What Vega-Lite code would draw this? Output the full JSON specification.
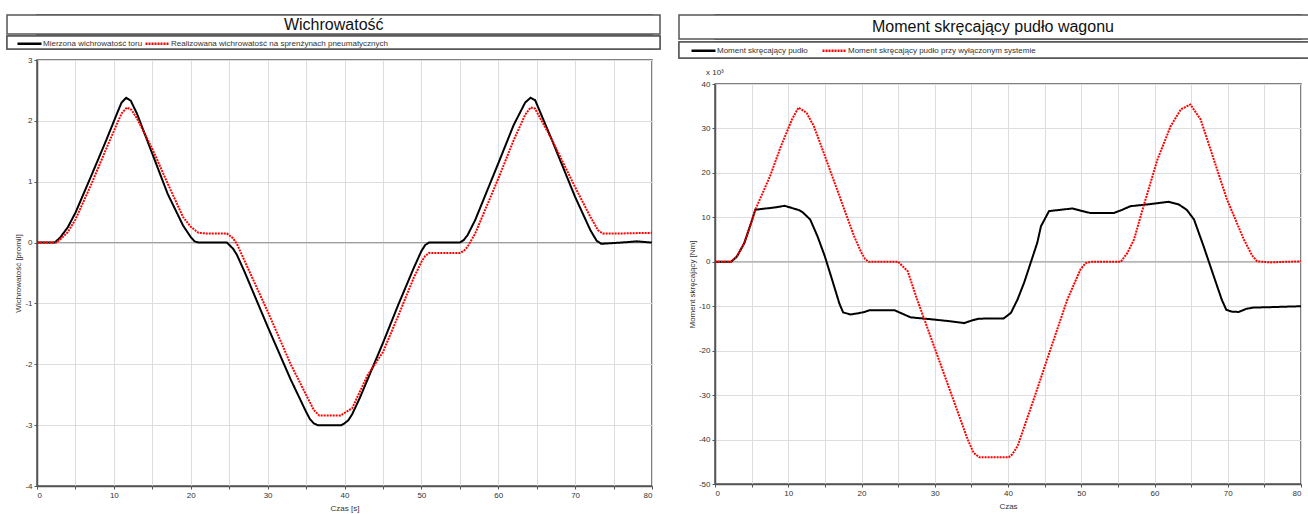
{
  "$schema": "https://vega.github.io/schema/vega-lite/v6.json",
  "padding": {"left": 5, "top": 13, "right": 0, "bottom": 0},
  "background": "white",
  "config": {
    "font": "Liberation Sans",
    "view": {"stroke": "#555", "strokeWidth": 1.5},
    "axis": {
      "labelFont": "Liberation Sans", "labelFontSize": 8, "labelColor": "#333",
      "titleFont": "Liberation Sans", "titleFontSize": 8, "titleFontWeight": "normal", "titleColor": "#333",
      "domainColor": "#555", "domainWidth": 1.5, "tickColor": "#555", "tickSize": 3, "labelPadding": 2,
      "gridColor": "#dddddd", "gridWidth": 1
    },
    "legend": {
      "labelFont": "Liberation Sans", "labelFontSize": 8, "labelColor": "#333", "labelLimit": 500,
      "symbolType": "M-3,0H3", "symbolSize": 64, "symbolStrokeWidth": 2.5,
      "labelOffset": 8, "padding": 0, "rowPadding": 0, "direction": "horizontal"
    }
  },
  "datasets": {
    "wich": [
      {"t":0,"v":0,"s":"Mierzona wichrowatość toru"},{"t":2.3,"v":0,"s":"Mierzona wichrowatość toru"},{"t":3,"v":0.08,"s":"Mierzona wichrowatość toru"},{"t":4,"v":0.25,"s":"Mierzona wichrowatość toru"},{"t":5,"v":0.49,"s":"Mierzona wichrowatość toru"},{"t":7,"v":1.08,"s":"Mierzona wichrowatość toru"},{"t":9,"v":1.68,"s":"Mierzona wichrowatość toru"},{"t":10.5,"v":2.15,"s":"Mierzona wichrowatość toru"},{"t":11,"v":2.3,"s":"Mierzona wichrowatość toru"},{"t":11.6,"v":2.38,"s":"Mierzona wichrowatość toru"},{"t":12.2,"v":2.33,"s":"Mierzona wichrowatość toru"},{"t":13,"v":2.12,"s":"Mierzona wichrowatość toru"},{"t":15,"v":1.46,"s":"Mierzona wichrowatość toru"},{"t":17,"v":0.8,"s":"Mierzona wichrowatość toru"},{"t":19,"v":0.28,"s":"Mierzona wichrowatość toru"},{"t":20,"v":0.09,"s":"Mierzona wichrowatość toru"},{"t":20.5,"v":0.02,"s":"Mierzona wichrowatość toru"},{"t":21,"v":0,"s":"Mierzona wichrowatość toru"},{"t":24.7,"v":0,"s":"Mierzona wichrowatość toru"},{"t":25.5,"v":-0.1,"s":"Mierzona wichrowatość toru"},{"t":26,"v":-0.2,"s":"Mierzona wichrowatość toru"},{"t":27,"v":-0.48,"s":"Mierzona wichrowatość toru"},{"t":30,"v":-1.38,"s":"Mierzona wichrowatość toru"},{"t":33,"v":-2.25,"s":"Mierzona wichrowatość toru"},{"t":35,"v":-2.78,"s":"Mierzona wichrowatość toru"},{"t":35.5,"v":-2.9,"s":"Mierzona wichrowatość toru"},{"t":36,"v":-2.97,"s":"Mierzona wichrowatość toru"},{"t":36.5,"v":-3,"s":"Mierzona wichrowatość toru"},{"t":39.6,"v":-3,"s":"Mierzona wichrowatość toru"},{"t":40,"v":-2.97,"s":"Mierzona wichrowatość toru"},{"t":40.5,"v":-2.92,"s":"Mierzona wichrowatość toru"},{"t":41,"v":-2.82,"s":"Mierzona wichrowatość toru"},{"t":42,"v":-2.55,"s":"Mierzona wichrowatość toru"},{"t":43,"v":-2.25,"s":"Mierzona wichrowatość toru"},{"t":45,"v":-1.65,"s":"Mierzona wichrowatość toru"},{"t":47,"v":-1.02,"s":"Mierzona wichrowatość toru"},{"t":49,"v":-0.42,"s":"Mierzona wichrowatość toru"},{"t":50,"v":-0.14,"s":"Mierzona wichrowatość toru"},{"t":50.5,"v":-0.04,"s":"Mierzona wichrowatość toru"},{"t":51,"v":0,"s":"Mierzona wichrowatość toru"},{"t":55,"v":0,"s":"Mierzona wichrowatość toru"},{"t":55.5,"v":0.04,"s":"Mierzona wichrowatość toru"},{"t":56,"v":0.12,"s":"Mierzona wichrowatość toru"},{"t":57,"v":0.37,"s":"Mierzona wichrowatość toru"},{"t":60,"v":1.3,"s":"Mierzona wichrowatość toru"},{"t":62,"v":1.93,"s":"Mierzona wichrowatość toru"},{"t":63.5,"v":2.3,"s":"Mierzona wichrowatość toru"},{"t":64.2,"v":2.38,"s":"Mierzona wichrowatość toru"},{"t":64.8,"v":2.34,"s":"Mierzona wichrowatość toru"},{"t":65,"v":2.28,"s":"Mierzona wichrowatość toru"},{"t":67,"v":1.68,"s":"Mierzona wichrowatość toru"},{"t":70,"v":0.75,"s":"Mierzona wichrowatość toru"},{"t":72,"v":0.2,"s":"Mierzona wichrowatość toru"},{"t":72.8,"v":0.03,"s":"Mierzona wichrowatość toru"},{"t":73.4,"v":-0.02,"s":"Mierzona wichrowatość toru"},{"t":76,"v":0,"s":"Mierzona wichrowatość toru"},{"t":78,"v":0.02,"s":"Mierzona wichrowatość toru"},{"t":80,"v":0,"s":"Mierzona wichrowatość toru"},
      {"t":0,"v":0,"s":"Realizowana wichrowatość na sprenżynach pneumatycznych"},{"t":2.5,"v":0,"s":"Realizowana wichrowatość na sprenżynach pneumatycznych"},{"t":3,"v":0.05,"s":"Realizowana wichrowatość na sprenżynach pneumatycznych"},{"t":4,"v":0.17,"s":"Realizowana wichrowatość na sprenżynach pneumatycznych"},{"t":5,"v":0.38,"s":"Realizowana wichrowatość na sprenżynach pneumatycznych"},{"t":7,"v":0.94,"s":"Realizowana wichrowatość na sprenżynach pneumatycznych"},{"t":9,"v":1.54,"s":"Realizowana wichrowatość na sprenżynach pneumatycznych"},{"t":10.5,"v":1.98,"s":"Realizowana wichrowatość na sprenżynach pneumatycznych"},{"t":11,"v":2.12,"s":"Realizowana wichrowatość na sprenżynach pneumatycznych"},{"t":11.7,"v":2.22,"s":"Realizowana wichrowatość na sprenżynach pneumatycznych"},{"t":12.3,"v":2.18,"s":"Realizowana wichrowatość na sprenżynach pneumatycznych"},{"t":13,"v":2.04,"s":"Realizowana wichrowatość na sprenżynach pneumatycznych"},{"t":15,"v":1.54,"s":"Realizowana wichrowatość na sprenżynach pneumatycznych"},{"t":17,"v":0.97,"s":"Realizowana wichrowatość na sprenżynach pneumatycznych"},{"t":19,"v":0.42,"s":"Realizowana wichrowatość na sprenżynach pneumatycznych"},{"t":20,"v":0.26,"s":"Realizowana wichrowatość na sprenżynach pneumatycznych"},{"t":21,"v":0.16,"s":"Realizowana wichrowatość na sprenżynach pneumatycznych"},{"t":22,"v":0.15,"s":"Realizowana wichrowatość na sprenżynach pneumatycznych"},{"t":24.7,"v":0.15,"s":"Realizowana wichrowatość na sprenżynach pneumatycznych"},{"t":25.5,"v":0.07,"s":"Realizowana wichrowatość na sprenżynach pneumatycznych"},{"t":26,"v":-0.02,"s":"Realizowana wichrowatość na sprenżynach pneumatycznych"},{"t":27,"v":-0.3,"s":"Realizowana wichrowatość na sprenżynach pneumatycznych"},{"t":30,"v":-1.13,"s":"Realizowana wichrowatość na sprenżynach pneumatycznych"},{"t":33,"v":-2.0,"s":"Realizowana wichrowatość na sprenżynach pneumatycznych"},{"t":35,"v":-2.5,"s":"Realizowana wichrowatość na sprenżynach pneumatycznych"},{"t":36,"v":-2.75,"s":"Realizowana wichrowatość na sprenżynach pneumatycznych"},{"t":36.7,"v":-2.84,"s":"Realizowana wichrowatość na sprenżynach pneumatycznych"},{"t":39.5,"v":-2.84,"s":"Realizowana wichrowatość na sprenżynach pneumatycznych"},{"t":40,"v":-2.8,"s":"Realizowana wichrowatość na sprenżynach pneumatycznych"},{"t":41,"v":-2.72,"s":"Realizowana wichrowatość na sprenżynach pneumatycznych"},{"t":42,"v":-2.45,"s":"Realizowana wichrowatość na sprenżynach pneumatycznych"},{"t":43,"v":-2.18,"s":"Realizowana wichrowatość na sprenżynach pneumatycznych"},{"t":45,"v":-1.8,"s":"Realizowana wichrowatość na sprenżynach pneumatycznych"},{"t":47,"v":-1.2,"s":"Realizowana wichrowatość na sprenżynach pneumatycznych"},{"t":49,"v":-0.58,"s":"Realizowana wichrowatość na sprenżynach pneumatycznych"},{"t":50,"v":-0.32,"s":"Realizowana wichrowatość na sprenżynach pneumatycznych"},{"t":50.5,"v":-0.22,"s":"Realizowana wichrowatość na sprenżynach pneumatycznych"},{"t":51,"v":-0.17,"s":"Realizowana wichrowatość na sprenżynach pneumatycznych"},{"t":55,"v":-0.17,"s":"Realizowana wichrowatość na sprenżynach pneumatycznych"},{"t":55.5,"v":-0.14,"s":"Realizowana wichrowatość na sprenżynach pneumatycznych"},{"t":56,"v":-0.07,"s":"Realizowana wichrowatość na sprenżynach pneumatycznych"},{"t":57,"v":0.15,"s":"Realizowana wichrowatość na sprenżynach pneumatycznych"},{"t":60,"v":1.05,"s":"Realizowana wichrowatość na sprenżynach pneumatycznych"},{"t":62,"v":1.68,"s":"Realizowana wichrowatość na sprenżynach pneumatycznych"},{"t":63.5,"v":2.1,"s":"Realizowana wichrowatość na sprenżynach pneumatycznych"},{"t":64.2,"v":2.22,"s":"Realizowana wichrowatość na sprenżynach pneumatycznych"},{"t":64.8,"v":2.2,"s":"Realizowana wichrowatość na sprenżynach pneumatycznych"},{"t":65,"v":2.15,"s":"Realizowana wichrowatość na sprenżynach pneumatycznych"},{"t":66.9,"v":1.71,"s":"Realizowana wichrowatość na sprenżynach pneumatycznych"},{"t":70,"v":0.91,"s":"Realizowana wichrowatość na sprenżynach pneumatycznych"},{"t":72,"v":0.42,"s":"Realizowana wichrowatość na sprenżynach pneumatycznych"},{"t":73,"v":0.2,"s":"Realizowana wichrowatość na sprenżynach pneumatycznych"},{"t":73.6,"v":0.15,"s":"Realizowana wichrowatość na sprenżynach pneumatycznych"},{"t":76,"v":0.15,"s":"Realizowana wichrowatość na sprenżynach pneumatycznych"},{"t":80,"v":0.16,"s":"Realizowana wichrowatość na sprenżynach pneumatycznych"}
    ],
    "mom": [
      {"t":0,"v":0,"s":"Moment skręcający pudło"},{"t":2.2,"v":0,"s":"Moment skręcający pudło"},{"t":3,"v":1.2,"s":"Moment skręcający pudło"},{"t":4,"v":4.2,"s":"Moment skręcający pudło"},{"t":5,"v":9.1,"s":"Moment skręcający pudło"},{"t":5.5,"v":11.7,"s":"Moment skręcający pudło"},{"t":7.5,"v":12.1,"s":"Moment skręcający pudło"},{"t":8.5,"v":12.3,"s":"Moment skręcający pudło"},{"t":9.5,"v":12.6,"s":"Moment skręcający pudło"},{"t":10.5,"v":12.1,"s":"Moment skręcający pudło"},{"t":11.5,"v":11.6,"s":"Moment skręcający pudło"},{"t":12,"v":11.1,"s":"Moment skręcający pudło"},{"t":13,"v":9.5,"s":"Moment skręcający pudło"},{"t":14,"v":5.7,"s":"Moment skręcający pudło"},{"t":15,"v":1.2,"s":"Moment skręcający pudło"},{"t":16,"v":-4.1,"s":"Moment skręcający pudło"},{"t":17,"v":-9.5,"s":"Moment skręcający pudło"},{"t":17.5,"v":-11.4,"s":"Moment skręcający pudło"},{"t":18.5,"v":-11.85,"s":"Moment skręcający pudło"},{"t":19.5,"v":-11.6,"s":"Moment skręcający pudło"},{"t":20.4,"v":-11.3,"s":"Moment skręcający pudło"},{"t":21.1,"v":-10.9,"s":"Moment skręcający pudło"},{"t":24.5,"v":-10.9,"s":"Moment skręcający pudło"},{"t":25.8,"v":-11.85,"s":"Moment skręcający pudło"},{"t":26.7,"v":-12.5,"s":"Moment skręcający pudło"},{"t":29.9,"v":-13.0,"s":"Moment skręcający pudło"},{"t":32.2,"v":-13.4,"s":"Moment skręcający pudło"},{"t":34,"v":-13.8,"s":"Moment skręcający pudło"},{"t":34.9,"v":-13.3,"s":"Moment skręcający pudło"},{"t":36,"v":-12.8,"s":"Moment skręcający pudło"},{"t":39.4,"v":-12.75,"s":"Moment skręcający pudło"},{"t":40.4,"v":-11.5,"s":"Moment skręcający pudło"},{"t":41.3,"v":-8.5,"s":"Moment skręcający pudło"},{"t":42.2,"v":-4.7,"s":"Moment skręcający pudło"},{"t":43.1,"v":-0.2,"s":"Moment skręcający pudło"},{"t":44,"v":4.3,"s":"Moment skręcający pudło"},{"t":44.5,"v":8,"s":"Moment skręcający pudło"},{"t":45.6,"v":11.4,"s":"Moment skręcający pudło"},{"t":48.8,"v":12.0,"s":"Moment skręcający pudło"},{"t":49.9,"v":11.5,"s":"Moment skręcający pudło"},{"t":51.2,"v":11.0,"s":"Moment skręcający pudło"},{"t":54.5,"v":11.0,"s":"Moment skręcający pudło"},{"t":55.6,"v":11.7,"s":"Moment skręcający pudło"},{"t":56.7,"v":12.5,"s":"Moment skręcający pudło"},{"t":59,"v":12.9,"s":"Moment skręcający pudło"},{"t":61.9,"v":13.5,"s":"Moment skręcający pudło"},{"t":63.3,"v":12.9,"s":"Moment skręcający pudło"},{"t":64.4,"v":11.7,"s":"Moment skręcający pudło"},{"t":65.4,"v":9.5,"s":"Moment skręcający pudło"},{"t":66.7,"v":3.5,"s":"Moment skręcający pudło"},{"t":68.1,"v":-3.3,"s":"Moment skręcający pudło"},{"t":69.2,"v":-8.6,"s":"Moment skręcający pudło"},{"t":69.8,"v":-10.8,"s":"Moment skręcający pudło"},{"t":70.5,"v":-11.2,"s":"Moment skręcający pudło"},{"t":71.5,"v":-11.3,"s":"Moment skręcający pudło"},{"t":72.5,"v":-10.6,"s":"Moment skręcający pudło"},{"t":73.5,"v":-10.3,"s":"Moment skręcający pudło"},{"t":76,"v":-10.2,"s":"Moment skręcający pudło"},{"t":80,"v":-10.0,"s":"Moment skręcający pudło"},
      {"t":0,"v":0,"s":"Moment skręcający pudło przy wyłączonym systemie"},{"t":2.2,"v":0,"s":"Moment skręcający pudło przy wyłączonym systemie"},{"t":3,"v":1.2,"s":"Moment skręcający pudło przy wyłączonym systemie"},{"t":4,"v":4.2,"s":"Moment skręcający pudło przy wyłączonym systemie"},{"t":5,"v":9.1,"s":"Moment skręcający pudło przy wyłączonym systemie"},{"t":5.5,"v":11.7,"s":"Moment skręcający pudło przy wyłączonym systemie"},{"t":7.5,"v":19.2,"s":"Moment skręcający pudło przy wyłączonym systemie"},{"t":9,"v":26,"s":"Moment skręcający pudło przy wyłączonym systemie"},{"t":10.5,"v":32,"s":"Moment skręcający pudło przy wyłączonym systemie"},{"t":11.4,"v":34.7,"s":"Moment skręcający pudło przy wyłączonym systemie"},{"t":12.5,"v":33.5,"s":"Moment skręcający pudło przy wyłączonym systemie"},{"t":13.5,"v":30.5,"s":"Moment skręcający pudło przy wyłączonym systemie"},{"t":15,"v":23.8,"s":"Moment skręcający pudło przy wyłączonym systemie"},{"t":16.5,"v":17.0,"s":"Moment skręcający pudło przy wyłączonym systemie"},{"t":18,"v":10.2,"s":"Moment skręcający pudło przy wyłączonym systemie"},{"t":19,"v":5.7,"s":"Moment skręcający pudło przy wyłączonym systemie"},{"t":20,"v":2.0,"s":"Moment skręcający pudło przy wyłączonym systemie"},{"t":20.5,"v":0.6,"s":"Moment skręcający pudło przy wyłączonym systemie"},{"t":21,"v":0,"s":"Moment skręcający pudło przy wyłączonym systemie"},{"t":25,"v":0,"s":"Moment skręcający pudło przy wyłączonym systemie"},{"t":26.3,"v":-2.1,"s":"Moment skręcający pudło przy wyłączonym systemie"},{"t":27.6,"v":-8.5,"s":"Moment skręcający pudło przy wyłączonym systemie"},{"t":29.9,"v":-19,"s":"Moment skręcający pudło przy wyłączonym systemie"},{"t":32.2,"v":-29.5,"s":"Moment skręcający pudło przy wyłączonym systemie"},{"t":34.5,"v":-40,"s":"Moment skręcający pudło przy wyłączonym systemie"},{"t":35.3,"v":-43,"s":"Moment skręcający pudło przy wyłączonym systemie"},{"t":36.1,"v":-44,"s":"Moment skręcający pudło przy wyłączonym systemie"},{"t":40.1,"v":-44,"s":"Moment skręcający pudło przy wyłączonym systemie"},{"t":40.6,"v":-43.3,"s":"Moment skręcający pudło przy wyłączonym systemie"},{"t":41.3,"v":-41.5,"s":"Moment skręcający pudło przy wyłączonym systemie"},{"t":43.5,"v":-31,"s":"Moment skręcający pudło przy wyłączonym systemie"},{"t":45.8,"v":-19.7,"s":"Moment skręcający pudło przy wyłączonym systemie"},{"t":48.1,"v":-8.5,"s":"Moment skręcający pudło przy wyłączonym systemie"},{"t":49.9,"v":-1.7,"s":"Moment skręcający pudło przy wyłączonym systemie"},{"t":50.6,"v":-0.3,"s":"Moment skręcający pudło przy wyłączonym systemie"},{"t":51.3,"v":0,"s":"Moment skręcający pudło przy wyłączonym systemie"},{"t":55.4,"v":0,"s":"Moment skręcający pudło przy wyłączonym systemie"},{"t":56.3,"v":2,"s":"Moment skręcający pudło przy wyłączonym systemie"},{"t":57.2,"v":5,"s":"Moment skręcający pudło przy wyłączonym systemie"},{"t":58.5,"v":12.5,"s":"Moment skręcający pudło przy wyłączonym systemie"},{"t":60.4,"v":23,"s":"Moment skręcający pudło przy wyłączonym systemie"},{"t":62.2,"v":30.5,"s":"Moment skręcający pudło przy wyłączonym systemie"},{"t":63.6,"v":34.3,"s":"Moment skręcający pudło przy wyłączonym systemie"},{"t":64.9,"v":35.4,"s":"Moment skręcający pudło przy wyłączonym systemie"},{"t":66.3,"v":32,"s":"Moment skręcający pudło przy wyłączonym systemie"},{"t":68.1,"v":23,"s":"Moment skręcający pudło przy wyłączonym systemie"},{"t":69.9,"v":14,"s":"Moment skręcający pudło przy wyłączonym systemie"},{"t":72.2,"v":5,"s":"Moment skręcający pudło przy wyłączonym systemie"},{"t":73.3,"v":1.5,"s":"Moment skręcający pudło przy wyłączonym systemie"},{"t":74,"v":0.1,"s":"Moment skręcający pudło przy wyłączonym systemie"},{"t":75.8,"v":-0.15,"s":"Moment skręcający pudło przy wyłączonym systemie"},{"t":78,"v":0,"s":"Moment skręcający pudło przy wyłączonym systemie"},{"t":80,"v":0.1,"s":"Moment skręcający pudło przy wyłączonym systemie"}
    ]
  },
  "hconcat": [
    {
      "vconcat": [
        {
          "vconcat": [
            {
              "width": 615, "height": 19,
              "data": {"values": [{"label": "Wichrowatość"}]},
              "layer": [
                {"mark": {"type": "rect", "fill": "white", "stroke": "#555", "strokeWidth": 1.5},
                 "encoding": {"x": {"datum": -3.9, "type": "quantitative", "scale": {"domain": [0, 80], "nice": false, "zero": false}, "axis": null}, "x2": {"datum": 81.04}}},
                {"mark": {"type": "text", "fontSize": 16, "font": "Liberation Sans", "color": "#111"},
                 "encoding": {"x": {"datum": 38.6, "type": "quantitative", "axis": null}, "text": {"field": "label"}}}
              ]
            },
            {
              "width": 615, "height": 13,
              "data": {"values": [{"s": "Mierzona wichrowatość toru"}, {"s": "Realizowana wichrowatość na sprenżynach pneumatycznych"}]},
              "layer": [
                {"mark": {"type": "rect", "fill": "white", "stroke": "#555", "strokeWidth": 1.5},
                 "encoding": {"x": {"datum": -3.9, "type": "quantitative", "scale": {"domain": [0, 80], "nice": false, "zero": false}, "axis": null}, "x2": {"datum": 81.04}}},
                {
                  "mark": {"type": "line", "strokeWidth": 2},
                  "encoding": {
                    "color": {"field": "s", "type": "nominal", "scale": {"domain": ["Mierzona wichrowatość toru", "Realizowana wichrowatość na sprenżynach pneumatycznych"], "range": ["#000000", "#ff0000"]}, "legend": {"title": null, "orient": "none", "legendX": -13, "legendY": 2, "columnPadding": -3}},
                    "strokeDash": {"field": "s", "type": "nominal", "scale": {"domain": ["Mierzona wichrowatość toru", "Realizowana wichrowatość na sprenżynach pneumatycznych"], "range": [[1, 0], [2, 1]]}, "legend": {"title": null, "orient": "none", "legendX": -13, "legendY": 2, "columnPadding": -3}}
                  }
                }
              ]
            }
          ],
          "spacing": -3,
          "resolve": {"scale": {"color": "independent", "strokeDash": "independent"}}
        },
        {
          "width": 615, "height": 426,
          "layer": [
            {
              "data": {"values": [{"z": 0}]},
              "mark": {"type": "rule", "color": "#999999", "strokeWidth": 1},
              "encoding": {"y": {"field": "z", "type": "quantitative", "scale": {"domain": [-4, 3], "nice": false}}}
            },
            {
              "data": {"name": "wich"},
              "mark": {"type": "line", "strokeWidth": 2},
              "encoding": {
                "x": {"field": "t", "type": "quantitative", "scale": {"domain": [0, 80], "nice": false},
                  "axis": {"title": "Czas [s]", "values": [0,5,10,15,20,25,30,35,40,45,50,55,60,65,70,75,80], "labelExpr": "datum.value % 10 === 0 ? toString(datum.value) : ''", "titlePadding": 5}},
                "y": {"field": "v", "type": "quantitative", "scale": {"domain": [-4, 3], "nice": false},
                  "axis": {"title": "Wichrowatość [promil]", "values": [-4,-3.5,-3,-2.5,-2,-1.5,-1,-0.5,0,0.5,1,1.5,2,2.5,3], "labelExpr": "datum.value % 1 === 0 ? toString(datum.value) : ''", "titlePadding": 2}},
                "color": {"field": "s", "type": "nominal", "scale": {"domain": ["Mierzona wichrowatość toru", "Realizowana wichrowatość na sprenżynach pneumatycznych"], "range": ["#000000", "#ff0000"]}, "legend": null},
                "strokeDash": {"field": "s", "type": "nominal", "scale": {"domain": ["Mierzona wichrowatość toru", "Realizowana wichrowatość na sprenżynach pneumatycznych"], "range": [[1, 0], [2, 1]]}, "legend": null}
              }
            }
          ]
        }
      ],
      "spacing": 4,
      "resolve": {"scale": {"color": "independent", "strokeDash": "independent", "x": "independent"}}
    },
    {
      "vconcat": [
        {
          "vconcat": [
            {
              "width": 586, "height": 24,
              "data": {"values": [{"label": "Moment skręcający pudło wagonu"}]},
              "layer": [
                {"mark": {"type": "rect", "fill": "white", "stroke": "#555", "strokeWidth": 1.5},
                 "encoding": {"x": {"datum": -4.915, "type": "quantitative", "scale": {"domain": [0, 80], "nice": false, "zero": false}, "axis": null}, "x2": {"datum": 81.09}}},
                {"mark": {"type": "text", "fontSize": 16, "font": "Liberation Sans", "color": "#111"},
                 "encoding": {"x": {"datum": 37.95, "type": "quantitative", "axis": null}, "text": {"field": "label"}}}
              ]
            },
            {
              "width": 586, "height": 16,
              "data": {"values": [{"s": "Moment skręcający pudło"}, {"s": "Moment skręcający pudło przy wyłączonym systemie"}]},
              "layer": [
                {"mark": {"type": "rect", "fill": "white", "stroke": "#555", "strokeWidth": 1.5},
                 "encoding": {"x": {"datum": -4.915, "type": "quantitative", "scale": {"domain": [0, 80], "nice": false, "zero": false}, "axis": null}, "x2": {"datum": 81.09}}},
                {
                  "mark": {"type": "line", "strokeWidth": 2},
                  "encoding": {
                    "color": {"field": "s", "type": "nominal", "scale": {"domain": ["Moment skręcający pudło", "Moment skręcający pudło przy wyłączonym systemie"], "range": ["#000000", "#ff0000"]}, "legend": {"title": null, "orient": "none", "legendX": -17, "legendY": 3, "columnPadding": 9}},
                    "strokeDash": {"field": "s", "type": "nominal", "scale": {"domain": ["Moment skręcający pudło", "Moment skręcający pudło przy wyłączonym systemie"], "range": [[1, 0], [2, 1]]}, "legend": {"title": null, "orient": "none", "legendX": -17, "legendY": 3, "columnPadding": 9}}
                  }
                }
              ]
            }
          ],
          "spacing": -1,
          "resolve": {"scale": {"color": "independent", "strokeDash": "independent"}}
        },
        {
          "width": 586, "height": 400,
          "title": {"text": "x 10³", "anchor": "start", "frame": "group", "fontSize": 8, "fontWeight": "normal", "color": "#333", "font": "Liberation Sans", "offset": 3, "dx": -9},
          "layer": [
            {
              "data": {"values": [{"z": 0}]},
              "mark": {"type": "rule", "color": "#999999", "strokeWidth": 1},
              "encoding": {"y": {"field": "z", "type": "quantitative", "scale": {"domain": [-50, 40], "nice": false}}}
            },
            {
              "data": {"name": "mom"},
              "mark": {"type": "line", "strokeWidth": 2},
              "encoding": {
                "x": {"field": "t", "type": "quantitative", "scale": {"domain": [0, 80], "nice": false},
                  "axis": {"title": "Czas", "values": [0,5,10,15,20,25,30,35,40,45,50,55,60,65,70,75,80], "labelExpr": "datum.value % 10 === 0 ? toString(datum.value) : ''", "titlePadding": 5}},
                "y": {"field": "v", "type": "quantitative", "scale": {"domain": [-50, 40], "nice": false},
                  "axis": {"title": "Moment skręcający [Nm]", "values": [-50,-45,-40,-35,-30,-25,-20,-15,-10,-5,0,5,10,15,20,25,30,35,40], "labelExpr": "datum.value % 10 === 0 ? toString(datum.value) : ''", "titlePadding": 2}},
                "color": {"field": "s", "type": "nominal", "scale": {"domain": ["Moment skręcający pudło", "Moment skręcający pudło przy wyłączonym systemie"], "range": ["#000000", "#ff0000"]}, "legend": null},
                "strokeDash": {"field": "s", "type": "nominal", "scale": {"domain": ["Moment skręcający pudło", "Moment skręcający pudło przy wyłączonym systemie"], "range": [[1, 0], [2, 1]]}, "legend": null}
              }
            }
          ]
        }
      ],
      "spacing": 8,
      "resolve": {"scale": {"color": "independent", "strokeDash": "independent", "x": "independent"}}
    }
  ],
  "spacing": 15,
  "resolve": {"scale": {"color": "independent", "strokeDash": "independent", "x": "independent"}}
}
